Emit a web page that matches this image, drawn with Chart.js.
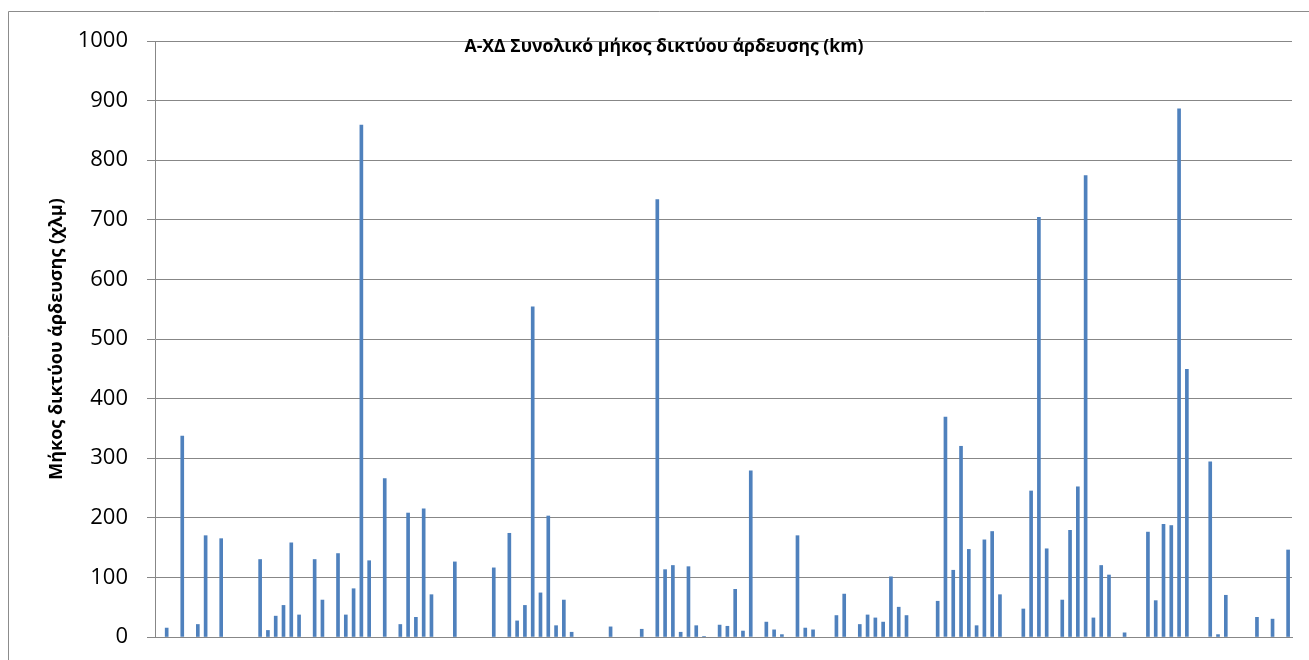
<!DOCTYPE html>
<html>
<head>
<meta charset="utf-8">
<script src="https://cdn.jsdelivr.net/npm/chart.js@4"></script>
<style>
  html, body { margin: 0; padding: 0; background: #fff; }
  #wrap { width: 1309px; height: 660px; position: relative; }
</style>
</head>
<body>
<div id="wrap"><canvas id="chart"></canvas></div>
<script>
// Total irrigation network length per unit (km)
const networkKm = [
  0, 15, 0, 337, 0, 21, 170, 0, 165, 0,
  0, 0, 0, 130, 11, 35, 53, 158, 37, 0,
  130, 62, 0, 140, 37, 81, 859, 128, 0, 266,
  0, 21, 208, 33, 215, 71, 0, 0, 126, 0,
  0, 0, 0, 116, 0, 174, 27, 53, 554, 74,
  203, 19, 62, 8, 0, 0, 0, 0, 17, 0,
  0, 0, 13, 0, 734, 113, 120, 8, 118, 19,
  1, 0, 20, 18, 80, 10, 279, 0, 25, 12,
  4, 0, 170, 15, 12, 0, 0, 36, 72, 0,
  21, 37, 32, 25, 101, 50, 36, 0, 0, 0,
  60, 369, 112, 320, 147, 19, 163, 177, 71, 0,
  0, 47, 245, 704, 148, 0, 62, 179, 252, 774,
  32, 120, 104, 0, 7, 0, 0, 176, 61, 189,
  187, 886, 449, 0, 0, 294, 4, 70, 0, 0,
  0, 33, 0, 30, 0, 146
];
// category labels are not shown in the reference (cropped off)
const categories = networkKm.map((_, i) => String(i + 1));
const yTicks = [0, 100, 200, 300, 400, 500, 600, 700, 800, 900, 1000];

const chartTitle = 'Α-ΧΔ Συνολικό μήκος δικτύου άρδευσης (km)';
const yTitle = 'Μήκος δικτύου άρδευσης (χλμ)';

const GRID = '#878787';
const BAR = '#4f81bd';
const FONT = '"Open Sans", "Noto Sans", sans-serif';

// white background, outer chart frame and the overlapping title
const frameAndTitle = {
  id: 'frameAndTitle',
  beforeDraw(chart) {
    const ctx = chart.ctx;
    ctx.save();
    ctx.fillStyle = '#fff';
    ctx.fillRect(0, 0, chart.width, chart.height);
    ctx.strokeStyle = '#8c8c8c';
    ctx.lineWidth = 1;
    ctx.beginPath();
    ctx.moveTo(8.5, chart.height + 2);
    ctx.lineTo(8.5, 11.5);
    ctx.lineTo(chart.width + 2, 11.5);
    ctx.stroke();
    ctx.restore();
  },
  afterDraw(chart) {
    const ctx = chart.ctx;
    ctx.save();
    ctx.font = 'bold 17.6px ' + FONT;
    ctx.fillStyle = '#000';
    ctx.textAlign = 'center';
    ctx.textBaseline = 'middle';
    ctx.fillText(chartTitle, 664, 47);
    ctx.restore();
  }
};

new Chart(document.getElementById('chart'), {
  type: 'bar',
  data: {
    labels: categories,
    datasets: [{
      label: yTitle,
      // empty cells in the source: no bar at all
      data: networkKm.map(v => (v === 0 ? null : v)),
      backgroundColor: BAR,
      borderWidth: 0,
      barThickness: 3
    }]
  },
  options: {
    responsive: true,
    maintainAspectRatio: false,
    animation: false,
    layout: { padding: { left: 0, right: 17, top: 41, bottom: 23 } },
    plugins: {
      legend: { display: false },
      title: { display: false },
      tooltip: { enabled: false }
    },
    scales: {
      x: {
        grid: { display: false, drawTicks: false },
        border: { display: true, color: GRID, width: 1 },
        ticks: { display: false },
        afterFit(scale) { scale.height = 0; }
      },
      y: {
        min: 0,
        max: 1000,
        afterBuildTicks(scale) { scale.ticks = yTicks.map(v => ({ value: v })); },
        grid: { color: GRID, lineWidth: 1, tickLength: 8, drawTicks: true, tickColor: GRID },
        border: { display: true, color: GRID, width: 1 },
        ticks: {
          color: '#000',
          padding: 19,
          font: { family: FONT, size: 22 },
          callback: v => String(v)
        },
        title: {
          display: true,
          text: yTitle,
          color: '#000',
          font: { family: FONT, size: 18, weight: 'bold' },
          padding: { top: 46, bottom: 0 }
        },
        afterFit(scale) {
          scale.width = 155;
          // tick padding is horizontal here; don't let it eat vertical space
          scale.paddingTop = 14;
          scale.paddingBottom = 14;
        }
      }
    }
  },
  plugins: [frameAndTitle]
});
</script>
</body>
</html>
